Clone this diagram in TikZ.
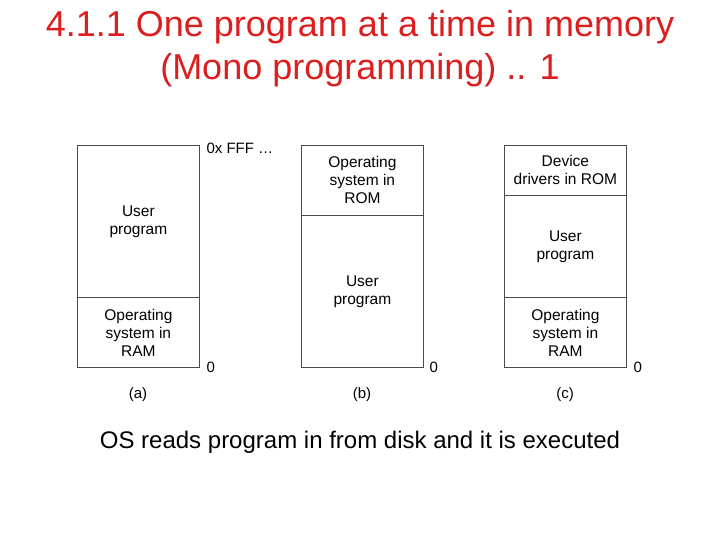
\documentclass[tikz,border=0pt]{standalone}
\usepackage{fontspec}
\setmainfont{Liberation Sans}
\usetikzlibrary{positioning}
\definecolor{titlered}{RGB}{220,30,30}
\tikzset{
  part/.style={draw=black!70, line width=0.8pt, minimum width=122pt, anchor=north west, inner sep=0pt, align=center, font=\fontsize{15.5}{18}\selectfont},
  addr/.style={anchor=west, font=\fontsize{15}{17}\selectfont},
  tag/.style={font=\fontsize{15}{17}\selectfont}
}
\begin{document}
\begin{tikzpicture}[x=1pt,y=-1pt]
\useasboundingbox (0,0) rectangle (720,540);
% title
\node[titlered, font=\fontsize{36}{43}\selectfont, align=center] (title) at (360,49) {4.1.1 One program at a time in memory\\(Mono programming) .. 1};
% (a)
\node[part, minimum height=152pt] (aUser) at (77,145) {User\\program};
\node[part, minimum height=70pt] (aOS) at (77,297) {Operating\\system in\\RAM};
% (b)
\node[part, minimum height=70pt] (bROM) at (301,145) {Operating\\system in\\ROM};
\node[part, minimum height=152pt] (bUser) at (301,215) {User\\program};
% (c)
\node[part, minimum height=50pt] (cDev) at (504,145) {Device\\drivers in ROM};
\node[part, minimum height=102pt] (cUser) at (504,195) {User\\program};
\node[part, minimum height=70pt] (cOS) at (504,297) {Operating\\system in\\RAM};
% addresses
\node[addr] (top) at (203,148) {0x FFF …};
\node[addr] (za) at (203,367) {0};
\node[addr] (zb) at (426,367) {0};
\node[addr] (zc) at (630,367) {0};
\node[tag] (la) at (138,395) {(a)};
\node[tag] (lb) at (362,395) {(b)};
\node[tag] (lc) at (565,395) {(c)};
% note
\node[font=\fontsize{24}{28}\selectfont] (note) at (360,442) {OS reads program in from disk and it is executed};
\end{tikzpicture}
\end{document}
